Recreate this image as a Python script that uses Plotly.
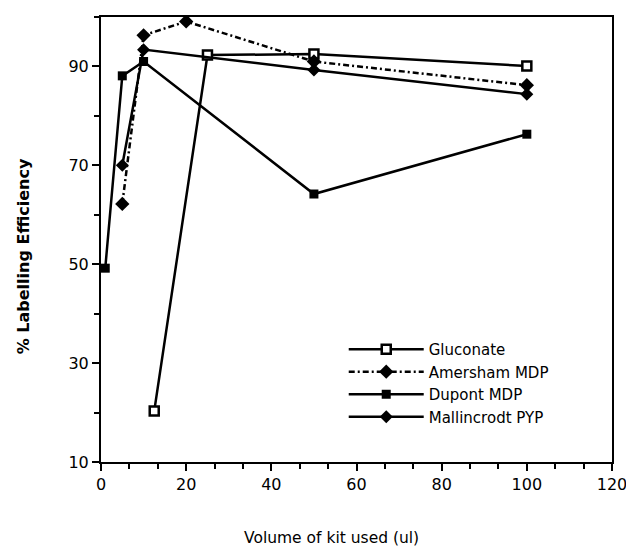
import plotly.graph_objects as go

series_names = ["Gluconate", "Amersham MDP", "Dupont MDP", "Mallincrodt PYP"]

gluconate_x = [12.5, 25, 50, 100]
gluconate_y = [20.3, 92.3, 92.5, 90.1]

amersham_x = [5, 10, 20, 50, 100]
amersham_y = [62.2, 96.3, 99.1, 91.0, 86.2]

dupont_x = [1, 5, 10, 50, 100]
dupont_y = [49.2, 88.1, 91.0, 64.2, 76.3]

mallincrodt_x = [5, 10, 50, 100]
mallincrodt_y = [70.0, 93.4, 89.3, 84.4]

x_tick_vals = [0, 20, 40, 60, 80, 100, 120]
y_tick_vals = [10, 30, 50, 70, 90]

FONT = "DejaVu Sans"

fig = go.Figure()

fig.add_trace(go.Scatter(
    x=gluconate_x, y=gluconate_y, name=series_names[0], mode="lines+markers",
    line=dict(color="black", width=2.5),
    marker=dict(symbol="square", size=9, color="white", line=dict(color="black", width=2.5)),
))
fig.add_trace(go.Scatter(
    x=amersham_x, y=amersham_y, name=series_names[1], mode="lines+markers",
    line=dict(color="black", width=2.5, dash="6px,3px,2px,3px"),
    marker=dict(symbol="diamond", size=11, color="black"),
))
fig.add_trace(go.Scatter(
    x=dupont_x, y=dupont_y, name=series_names[2], mode="lines+markers",
    line=dict(color="black", width=2.5),
    marker=dict(symbol="square", size=9, color="black"),
))
fig.add_trace(go.Scatter(
    x=mallincrodt_x, y=mallincrodt_y, name=series_names[3], mode="lines+markers",
    line=dict(color="black", width=2.5),
    marker=dict(symbol="diamond", size=10, color="black"),
))

# page body has an 8px default margin; figure is sized so the plot area lands where the reference has it
fig.update_layout(
    width=626, height=538,
    margin=dict(l=93, r=19, t=7, b=84),
    paper_bgcolor="white", plot_bgcolor="white",
    font=dict(family=FONT, size=14, color="black"),
    showlegend=True,
    legend=dict(
        x=0.475, y=0.29, xanchor="left", yanchor="top",
        bgcolor="rgba(0,0,0,0)", font=dict(family=FONT, size=15, color="black"),
        itemwidth=75, tracegroupgap=0,
    ),
    annotations=[
        dict(text="Volume of kit used (ul)", xref="paper", yref="paper",
             x=0.451, y=-0.170, xanchor="center", yanchor="middle",
             showarrow=False, font=dict(family=FONT, size=15.5, color="black")),
        dict(text="<b>% Labelling Efficiency</b>", xref="paper", yref="paper",
             x=-0.150, y=0.463, xanchor="center", yanchor="middle", textangle=-90,
             showarrow=False, font=dict(family=FONT, size=16, color="black")),
    ],
)

fig.update_xaxes(
    range=[0, 120], tickvals=x_tick_vals, ticktext=[str(v) for v in x_tick_vals],
    showgrid=False, zeroline=False,
    showline=True, linecolor="black", linewidth=2, mirror=True,
    ticks="outside", ticklen=7, tickwidth=2, tickcolor="black",
    minor=dict(dtick=20 / 3, tick0=0, ticks="outside", ticklen=5, tickwidth=2, tickcolor="black", showgrid=False),
    tickfont=dict(family=FONT, size=16, color="black"),
)
fig.update_yaxes(
    range=[10, 100], tickvals=y_tick_vals, ticktext=[str(v) for v in y_tick_vals],
    showgrid=False, zeroline=False,
    showline=True, linecolor="black", linewidth=2, mirror=True,
    ticks="outside", ticklen=7, tickwidth=2, tickcolor="black",
    minor=dict(dtick=10, tick0=0, ticks="outside", ticklen=5, tickwidth=2, tickcolor="black", showgrid=False),
    tickfont=dict(family=FONT, size=16, color="black"),
)

fig.write_html("out.html")
